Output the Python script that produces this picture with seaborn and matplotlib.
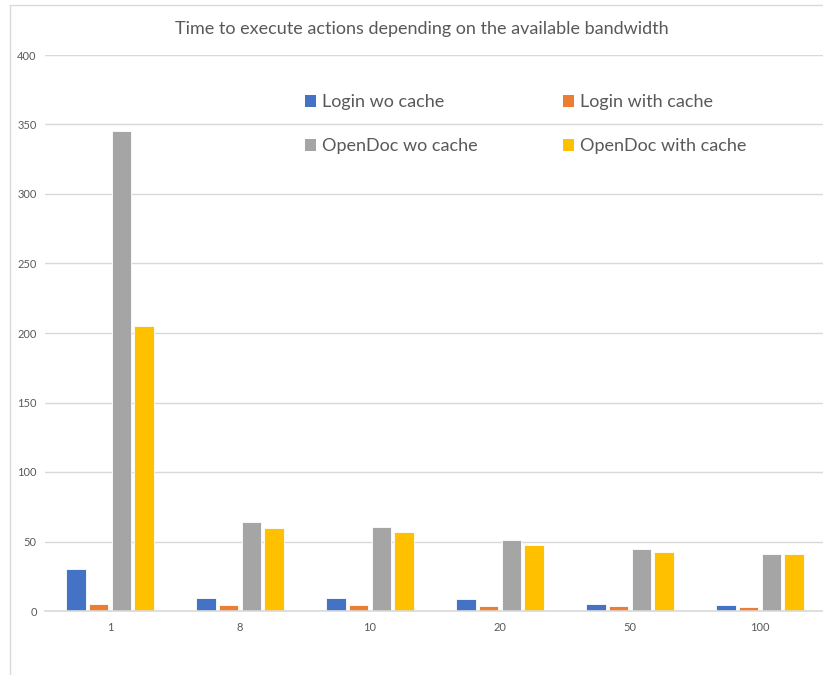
import matplotlib
matplotlib.use("Agg")
import matplotlib.pyplot as plt
import seaborn as sns
import pandas as pd
from matplotlib.patches import Patch, Rectangle

bandwidths = ["1", "8", "10", "20", "50", "100"]
login_wo_cache = [30, 9, 9, 8.4, 5, 4.5]
login_with_cache = [5, 4.1, 4.2, 3.6, 3.6, 3.1]
opendoc_wo_cache = [345, 64, 60.5, 51.3, 44.4, 40.8]
opendoc_with_cache = [205, 59.5, 56.6, 47.5, 42.2, 40.8]
series_names = ["Login wo cache", "Login with cache", "OpenDoc wo cache", "OpenDoc with cache"]
colors = ["#4472C4", "#ED7D31", "#A5A5A5", "#FFC000"]
title = "Time to execute actions depending on the available bandwidth"

rows = []
for name, vals in zip(series_names, [login_wo_cache, login_with_cache, opendoc_wo_cache, opendoc_with_cache]):
    for b, v in zip(bandwidths, vals):
        rows.append({"bandwidth": b, "series": name, "value": v})
df = pd.DataFrame(rows)

sns.set_style("white")
plt.rcParams["font.family"] = ["Lato", "DejaVu Sans"]

fig = plt.figure(figsize=(8.23, 6.75), dpi=100)
ax = fig.add_axes([45 / 823, 64 / 675, 780 / 823, 556 / 675])

sns.barplot(data=df, x="bandwidth", y="value", hue="series", order=bandwidths,
            hue_order=series_names, palette=colors, saturation=1, width=0.7, gap=0.15,
            edgecolor="white", linewidth=0.6, ax=ax, legend=False)

ax.set_ylim(0, 400)
ax.set_xlim(-0.5, 5.5)
ax.set_yticks(range(0, 401, 50))
ax.yaxis.grid(True, color="#d9d9d9", linewidth=1)
ax.set_axisbelow(True)
for s in ["top", "right", "left"]:
    ax.spines[s].set_visible(False)
ax.spines["bottom"].set_color("#d9d9d9")
ax.spines["bottom"].set_linewidth(1.2)
ax.tick_params(axis="both", length=0, labelsize=8, colors="#595959")
ax.tick_params(axis="x", pad=8)
ax.tick_params(axis="y", pad=6)
ax.set_xlabel("")
ax.set_ylabel("")

fig.text(422 / 823, 1 - 29 / 675, title, ha="center", va="center", fontsize=13,
         color="#595959")

order = [0, 2, 1, 3]
handles = [Patch(facecolor=colors[i], edgecolor="none") for i in order]
labels = [series_names[i] for i in order]
fig.legend(handles, labels, loc="upper left", bbox_to_anchor=(289 / 823, 1 - 78 / 675),
           ncol=2, frameon=False, fontsize=13, labelcolor="#595959",
           handlelength=0.6, handleheight=0.6, handletextpad=0.35,
           columnspacing=4.7, labelspacing=1.55)

fig.patches.append(Rectangle((10 / 823, -0.01), 1.0, 1 - 5 / 675 + 0.01, transform=fig.transFigure,
                             fill=False, edgecolor="#d9d9d9", linewidth=1))

fig.savefig("out.png", dpi=100)
